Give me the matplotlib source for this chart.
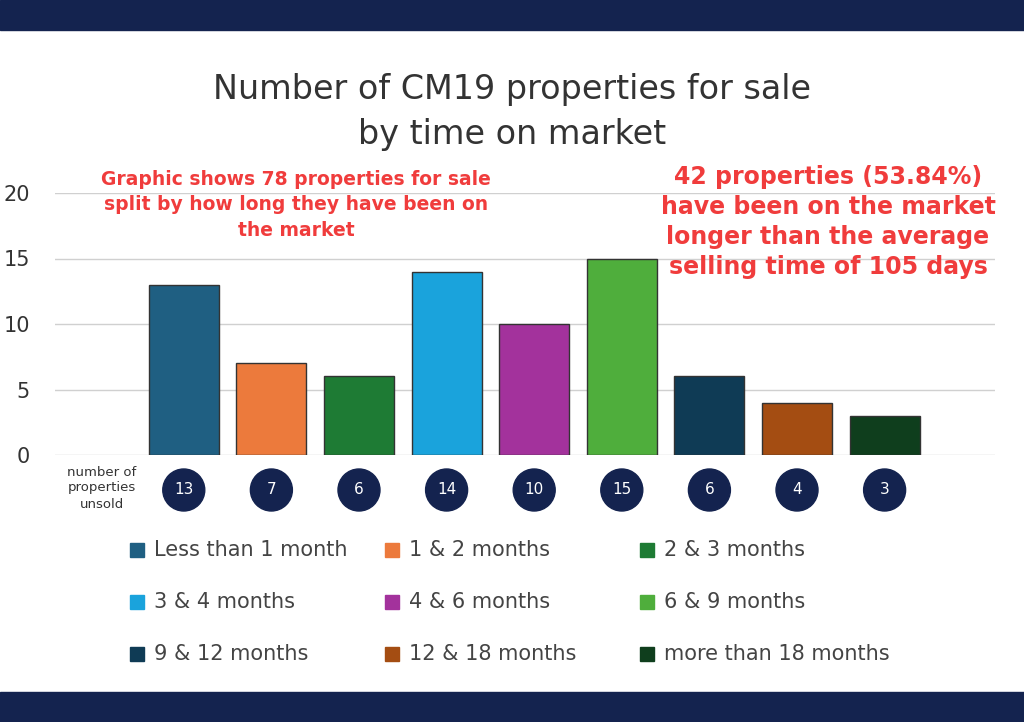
import matplotlib.pyplot as plt
from matplotlib.patches import Rectangle, Circle

categories = ['Less than 1 month', '1 & 2 months', '2 & 3 months', '3 & 4 months',
              '4 & 6 months', '6 & 9 months', '9 & 12 months', '12 & 18 months',
              'more than 18 months']
counts = [13, 7, 6, 14, 10, 15, 6, 4, 3]
colors = ['#1f5f82', '#ec7a3c', '#1e7b34', '#1aa3dc', '#a3329c', '#4fae3c',
          '#0f3b55', '#a44d12', '#0f3e1d']
navy = '#14234f'

W, H = 1024, 722
fig = plt.figure(figsize=(W / 100, H / 100), dpi=100)
fig.patches.append(Rectangle((0, 0.958), 1, 0.042, transform=fig.transFigure, color=navy))
fig.patches.append(Rectangle((0, 0), 1, 0.042, transform=fig.transFigure, color=navy))

def fx(px): return px / W
def fy(py): return 1 - py / H

ax = fig.add_axes([fx(55), fy(455), fx(995) - fx(55), fy(193) - fy(455)])
x = list(range(len(counts)))
ax.bar(x, counts, width=0.8, color=colors, edgecolor='#333333', linewidth=1, zorder=3)
ax.set_xlim(-1.47, 9.26)
ax.set_ylim(0, 20)
ax.set_yticks([0, 5, 10, 15, 20])
ax.yaxis.grid(True, color='#d0d0d0', linewidth=1, zorder=0)
ax.tick_params(axis='y', length=0, labelsize=15, labelcolor='#333333', pad=18)
ax.set_xticks([])
for s in ax.spines.values():
    s.set_visible(False)

fig.text(0.5, fy(112), 'Number of CM19 properties for sale\nby time on market',
         ha='center', va='center', fontsize=24, color='#333333', linespacing=1.45)
fig.text(fx(296), fy(205), 'Graphic shows 78 properties for sale\nsplit by how long they have been on\nthe market',
         ha='center', va='center', fontsize=13.5, fontweight='bold', color='#f03c3c', linespacing=1.45)
fig.text(fx(828), fy(222), '42 properties (53.84%)\nhave been on the market\nlonger than the average\nselling time of 105 days',
         ha='center', va='center', fontsize=17, fontweight='bold', color='#f03c3c', linespacing=1.3)

# count circles below bars
for i, c in enumerate(counts):
    xd = ax.transData.transform((i, 0))[0]
    cx = xd / W
    fig.patches.append(Circle((xd, H - 490), 21, transform=None, color=navy))
    fig.text(cx, fy(490), str(c), ha='center', va='center', fontsize=11, color='white')
fig.text(fx(102), fy(488), 'number of\nproperties\nunsold', ha='center', va='center',
         fontsize=9.5, color='#333333', linespacing=1.3)

# legend
cols = [130, 385, 640]
rows = [550, 602, 654]
for i, (name, col) in enumerate(zip(categories, colors)):
    px, py = cols[i % 3], rows[i // 3]
    fig.patches.append(Rectangle((px, H - py - 7), 14, 14, transform=None, color=col))
    fig.text(fx(px + 24), fy(py), name, ha='left', va='center', fontsize=15, color='#444444')

fig.savefig('out.png', dpi=100)
